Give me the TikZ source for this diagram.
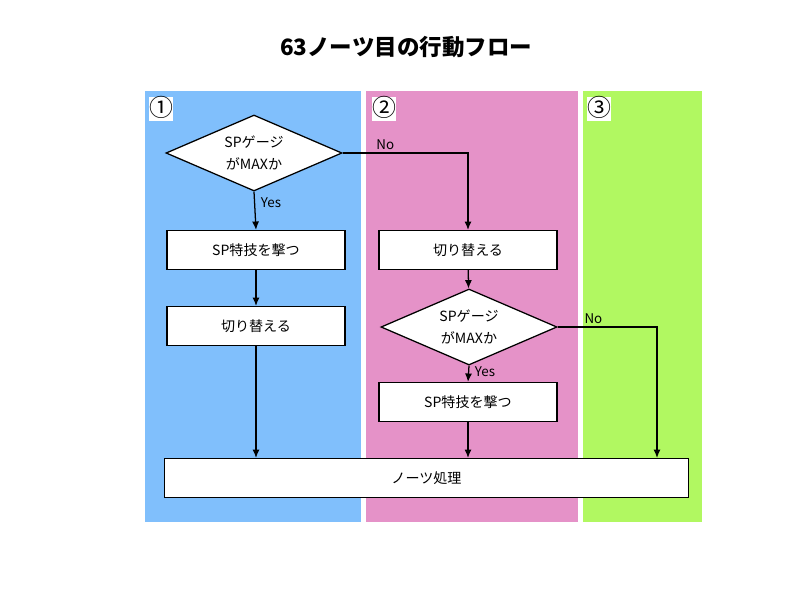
\documentclass[tikz,border=0pt]{standalone}
\usepackage{fontspec}
\setmainfont{Noto Sans CJK JP}
\usepackage{tikz}
\usetikzlibrary{arrows.meta, shapes.geometric, positioning, calc}

\definecolor{laneblue}{RGB}{128,191,252}
\definecolor{lanepink}{RGB}{229,146,200}
\definecolor{lanegreen}{RGB}{177,248,97}

\begin{document}
\begin{tikzpicture}[
  x=0.025cm, y=-0.025cm,
  stepbox/.style  = {rectangle, draw=black, fill=white, line width=0.9pt,
                     minimum width=4.45cm, minimum height=0.97cm,
                     align=center, font=\fontsize{10}{12}\selectfont, inner sep=2pt},
  ask/.style      = {diamond, draw=black, fill=white, line width=0.9pt, aspect=2.3,
                     minimum width=4.4cm, minimum height=1.9cm, inner sep=0pt,
                     align=center, font=\fontsize{10}{16}\selectfont},
  lanetag/.style  = {rectangle, fill=white, minimum width=0.55cm, minimum height=0.58cm,
                     inner sep=0pt, text height=13pt, text depth=2.5pt,
                     font=\fontsize{17}{17}\selectfont},
  arr/.style      = {-{Latex[length=6pt,width=5pt]}, line width=0.9pt},
  lbl/.style      = {font=\fontsize{9.5}{10}\selectfont, inner sep=1pt},
]
\useasboundingbox (0,0) rectangle (800,600);

%% ── Title ────────────────────────────────────────────────────────────────
\node[font=\bfseries\fontsize{16}{18}\selectfont] (title) at (406,47) {63ノーツ目の行動フロー};

%% ── Lanes ────────────────────────────────────────────────────────────────
\fill[laneblue]  (145,91) rectangle (361,522);
\fill[lanepink]  (366,91) rectangle (578,522);
\fill[lanegreen] (583,91) rectangle (702,522);
\node[lanetag] (tag1) at (161,109) {①};
\node[lanetag] (tag2) at (384,109) {②};
\node[lanetag] (tag3) at (599,109) {③};

%% ── Lane 1 ───────────────────────────────────────────────────────────────
\node[ask]     (ask1) at (254,153) {SPゲージ\\がMAXか};
\node[stepbox] (sp1)  at (256,250) {SP特技を撃つ};
\node[stepbox] (sw1)  at (256,326) {切り替える};

%% ── Lane 2 ───────────────────────────────────────────────────────────────
\node[stepbox] (sw2)  at (468,250) {切り替える};
\node[ask]     (ask2) at (469,327) {SPゲージ\\がMAXか};
\node[stepbox] (sp2)  at (468,402) {SP特技を撃つ};

%% ── End ──────────────────────────────────────────────────────────────────
\node[stepbox, minimum width=13.08cm] (notes) at (426.5,478) {ノーツ処理};
\coordinate (skip) at (657,458);

%% ── Arrows ───────────────────────────────────────────────────────────────
\draw[arr] (ask1.south) -- node[lbl, pos=0.3, right=3pt] {Yes} (sp1.north);
\draw[arr] (ask1.east)  -| node[lbl, pos=0.17, above=1pt] {No} (sw2.north);
\draw[arr] (sp1)  -- (sw1);
\draw[arr] (sw1.south) -- (sw1.south |- notes.north);
\draw[arr] (sw2)  -- (ask2);
\draw[arr] (ask2.south) -- node[lbl, pos=0.35, right=3pt] {Yes} (sp2.north);
\draw[arr] (ask2.east)  -| node[lbl, pos=0.18, above=1pt] {No} (skip);
\draw[arr] (sp2.south) -- (sp2.south |- notes.north);

\end{tikzpicture}
\end{document}
